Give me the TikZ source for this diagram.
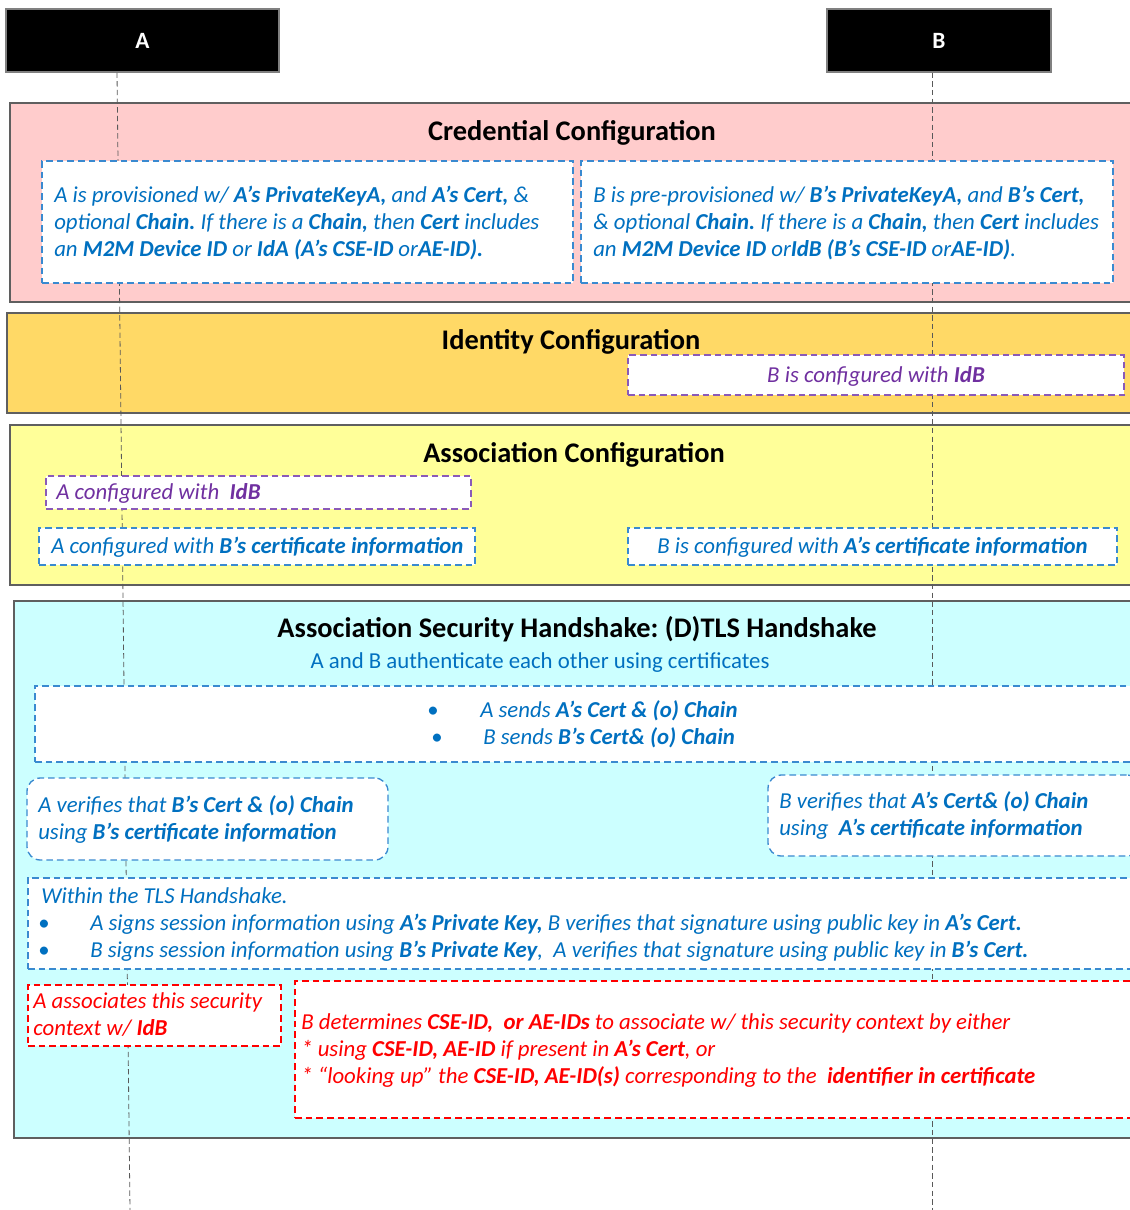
\documentclass[tikz,border=0pt]{standalone}
\usepackage{fontspec}
\setmainfont{Carlito}
\usetikzlibrary{fit}

\definecolor{credfill}{HTML}{FFCCCC}
\definecolor{idfill}{HTML}{FFD966}
\definecolor{assocfill}{HTML}{FFFF99}
\definecolor{hsfill}{HTML}{CCFFFF}
\definecolor{secgray}{HTML}{5F5F5F}
\definecolor{txtblue}{HTML}{0070C0}
\definecolor{lineblue}{HTML}{3A8AD0}
\definecolor{txtpurple}{HTML}{7030A0}
\definecolor{linepurple}{HTML}{8A5AB8}
\definecolor{txtred}{HTML}{FF0000}

\newcommand\hb[1]{{\bfseries #1}}
\frenchspacing

\begin{document}
\begin{tikzpicture}[x=0.75pt,y=-0.75pt,
  actor/.style={draw=gray, fill=black, line width=0.8pt, inner sep=0pt},
  actortext/.style={text=white, font=\fontsize{17.5}{20}\selectfont\bfseries, inner sep=0pt},
  section/.style={draw=secgray, line width=0.8pt, inner sep=0pt},
  lifeline/.style={draw=black!65, line width=0.6pt, dash pattern=on 4pt off 2.5pt},
  bluebox/.style={draw=lineblue, fill=white, line width=1pt, dash pattern=on 5pt off 3pt, inner sep=0pt},
  purplebox/.style={draw=linepurple, fill=white, line width=1pt, dash pattern=on 5pt off 3pt, inner sep=0pt},
  redbox/.style={draw=txtred, fill=white, line width=1pt, dash pattern=on 5pt off 3pt, inner sep=0pt},
  title/.style={font=\fontsize{21.3}{25}\selectfont\bfseries, text=black, inner sep=0pt, anchor=base},
  bt/.style={font=\fontsize{17.1}{20}\selectfont\itshape, text=txtblue, inner sep=0pt, anchor=base west, yshift=-1pt},
  pt/.style={bt, text=txtpurple},
  rt/.style={bt, text=txtred},
  bullet/.style={font=\fontsize{17.1}{20}\selectfont, text=txtblue, inner sep=0pt, anchor=base, yshift=-1pt}
]
\clip (0,0) rectangle (1130,1210);

% participants
\node[actor, fit={(6,9) (279,72)}] (A) {};
\node[actortext] (Alabel) at (A.center) {A};
\node[actor, fit={(827,9) (1051,72)}] (B) {};
\node[actortext] (Blabel) at (B.center) {B};

% phase backgrounds
\node[section, fill=credfill,  fit={(10,103) (1140,302)}] (cred) {};
\node[section, fill=idfill,    fit={(7,313) (1140,413)}] (ident) {};
\node[section, fill=assocfill, fit={(10,425) (1140,585)}] (assoc) {};
\node[section, fill=hsfill,    fit={(14,601) (1140,1138)}] (hs) {};

% lifelines
\coordinate (Aend) at (130,1210);
\coordinate (Bend) at (932,1210);
\draw[lifeline] (A.south -| 117,0) -- (Aend);
\draw[lifeline] (B.south -| 932,0) -- (Bend);

% credential configuration
\node[title] (credT) at (572,140) {Credential Configuration};
\node[bluebox, fit={(42,161) (573,283)}] (credA) {};
\node[bt] (ca1) at (54,201) {A is provisioned w/ \hb{A’s PrivateKeyA,} and \hb{A’s Cert,} \&};
\node[bt] (ca2) at (54,228) {optional \hb{Chain.} If there is a \hb{Chain,} then \hb{Cert} includes};
\node[bt] (ca3) at (54,255) {an \hb{M2M Device ID} or \hb{IdA (A’s CSE-ID} or\hb{AE-ID).}};
\node[bluebox, fit={(581,161) (1113,283)}] (credB) {};
\node[bt] (cb1) at (593,201) {B is pre-provisioned w/ \hb{B’s PrivateKeyA,} and \hb{B’s Cert,}};
\node[bt] (cb2) at (593,228) {\& optional \hb{Chain.} If there is a \hb{Chain,} then \hb{Cert} includes};
\node[bt] (cb3) at (593,255) {an \hb{M2M Device ID} or\hb{IdB (B’s CSE-ID} or\hb{AE-ID)}.};

% identity configuration
\node[title] (idT) at (571,349) {Identity Configuration};
\node[purplebox, fit={(628,355) (1124,395)}] (idB) {};
\node[pt, anchor=base] (idb1) at (876,381) {B is configured with \hb{IdB}};

% association configuration
\node[title] (asT) at (574,462) {Association Configuration};
\node[purplebox, fit={(46,476) (471,509)}] (asA1) {};
\node[pt] (asa1) at (56,498) {A configured with\ \ \hb{IdB}};
\node[bluebox, fit={(39,528) (475,565)}] (asA2) {};
\node[bt] (asa2) at (51,552) {A configured with \hb{B’s certificate information}};
\node[bluebox, fit={(628,528) (1117,565)}] (asB) {};
\node[bt] (asb) at (657,552) {B is configured with \hb{A’s certificate information}};

% security handshake
\node[title] (hsT) at (577,637) {Association Security Handshake: (D)TLS Handshake};
\node[font=\fontsize{17.1}{20}\selectfont, text=txtblue, inner sep=0pt, anchor=base, yshift=-1pt] (hsS) at (540,667) {A and B authenticate each other using certificates};

\node[bluebox, fit={(35,686) (1140,762)}] (send) {};
\node[bullet] (sb1) at (433,716) {•};
\node[bt] (s1) at (480,716) {A sends \hb{A’s Cert \& (o) Chain}};
\node[bullet] (sb2) at (437,743) {•};
\node[bt] (s2) at (483,743) {B sends \hb{B’s Cert\& (o) Chain}};

\node[bluebox, rounded corners=10pt, fit={(27,778) (388,860)}] (verA) {};
\node[bt] (va1) at (38,811) {A verifies that \hb{B’s Cert \& (o) Chain}};
\node[bt] (va2) at (38,838) {using \hb{B’s certificate information}};
\node[bluebox, rounded corners=10pt, fit={(768,775) (1140,856)}] (verB) {};
\node[bt] (vb1) at (779,807) {B verifies that \hb{A’s Cert\& (o) Chain}};
\node[bt] (vb2) at (779,834) {using\ \ \hb{A’s certificate information}};

\node[bluebox, fit={(28,878) (1140,969)}] (within) {};
\node[bt] (w0) at (41,902) {Within the TLS Handshake.};
\node[bullet] (wb1) at (44,929) {•};
\node[bt] (w1) at (90,929) {A signs session information using \hb{A’s Private Key,} B verifies that signature using public key in \hb{A’s Cert.}};
\node[bullet] (wb2) at (44,956) {•};
\node[bt] (w2) at (90,956) {B signs session information using \hb{B’s Private Key},\ \ A verifies that signature using public key in \hb{B’s Cert.}};

\node[redbox, fit={(28,985) (281,1046)}] (assA) {};
\node[rt] (aa1) at (33,1007) {A associates this security};
\node[rt] (aa2) at (33,1034) {context w/ \hb{IdB}};
\node[redbox, fit={(295,981) (1140,1118)}] (assB) {};
\node[rt] (ab1) at (301,1028) {B determines \hb{CSE-ID,\ \ or AE-IDs} to associate w/ this security context by either};
\node[rt] (ab2) at (301,1055) {* using \hb{CSE-ID, AE-ID} if present in \hb{A’s Cert}, or};
\node[rt] (ab3) at (301,1082) {* “looking up” the \hb{CSE-ID, AE-ID(s)} corresponding to the\ \ \hb{identifier in certificate}};
\end{tikzpicture}
\end{document}
